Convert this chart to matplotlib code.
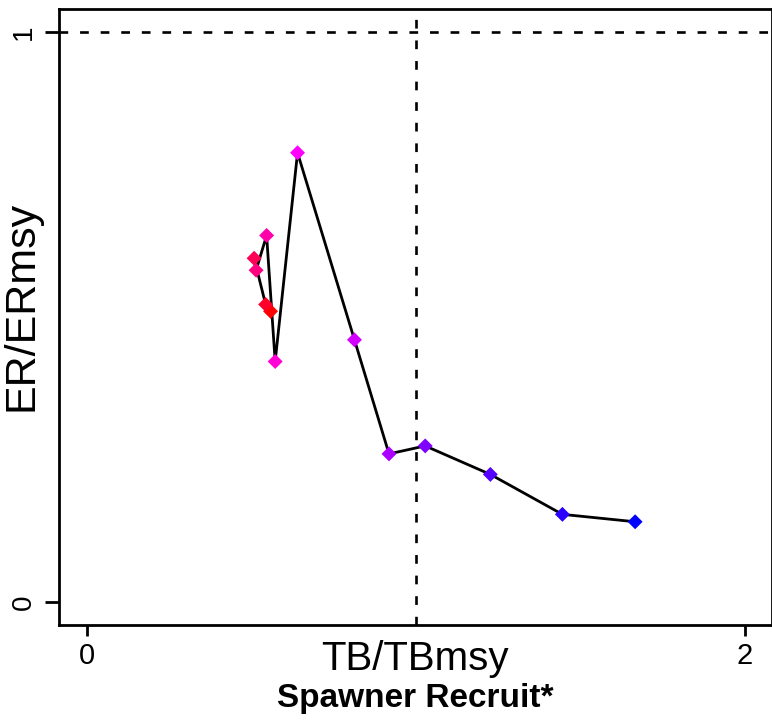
import matplotlib
matplotlib.use("Agg")
import matplotlib.pyplot as plt
import numpy as np

plt.rcParams['font.family'] = ['Liberation Sans', 'DejaVu Sans']

# TB/TBmsy and ER/ERmsy trajectory (chronological)
tb = [0.558, 0.543, 0.508, 0.514, 0.546, 0.572, 0.640, 0.813, 0.918, 1.028, 1.226, 1.445, 1.666]
er = [0.510, 0.522, 0.603, 0.582, 0.643, 0.422, 0.788, 0.460, 0.260, 0.274, 0.224, 0.154, 0.141]

xticks = [0, 2]
yticks = [0, 1]
ref_x = 1
ref_y = 1

fig = plt.figure(figsize=(7.72, 7.23), dpi=100)
ax = fig.add_axes([59/772, 98/723, 713/772, 616/723])

# colour ramp red -> magenta -> blue
n = len(tb)
cols = []
for i in range(n):
    t = i / (n - 1)
    if t <= 0.5:
        cols.append((1.0, 0.0, t * 2))
    else:
        cols.append((1.0 - (t - 0.5) * 2, 0.0, 1.0))

ax.plot(tb, er, color='black', lw=2.0, zorder=2)
ax.scatter(tb, er, c=cols, marker='D', s=58, linewidths=0, zorder=3)

ax.axhline(ref_y, color='black', lw=1.9, linestyle=(0, (3.3, 4.5)), zorder=1)
ax.axvline(ref_x, color='black', lw=1.9, linestyle=(0, (3.3, 4.5)), zorder=1)

ax.set_xlim(-0.085, 2.082)
ax.set_ylim(-0.040, 1.040)

ax.set_xticks(xticks)
ax.set_xticklabels([str(v) for v in xticks], fontsize=21)
ax.set_yticks(yticks)
ax.set_yticklabels([str(v) for v in yticks], fontsize=20, rotation=90, va='center')

ax.tick_params(axis='x', length=8, width=2, pad=4)
ax.tick_params(axis='y', length=10, width=2, pad=6)
for s in ax.spines.values():
    s.set_linewidth(2)

fig.text(415/772, 1 - 659/723, 'TB/TBmsy', fontsize=29, ha='center', va='center')
fig.text(22/772, 1 - 306/723, 'ER/ERmsy', fontsize=31, rotation=90, ha='center', va='center')
fig.text(415/772, 1 - 699/723, 'Spawner Recruit*', fontsize=24, fontweight='bold',
         ha='center', va='center')

fig.savefig('out.png', dpi=100)
